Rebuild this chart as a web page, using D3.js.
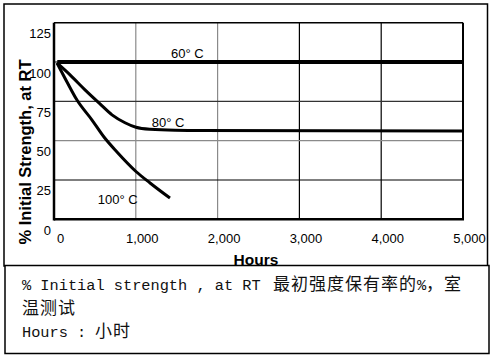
<!DOCTYPE html>
<html><head><meta charset="utf-8">
<script src="https://cdn.jsdelivr.net/npm/d3@7"></script>
<style>body{margin:0;background:#fff}svg{display:block}</style>
</head><body>
<script>
const xTicks = [0, 1000, 2000, 3000, 4000, 5000];
const yTicks = [0, 25, 50, 75, 100, 125];
const hours60 = [40, 5000];
const values60 = [100, 100];
const hours80 = [37, 196, 379, 562, 709, 868, 1002, 1174, 1480, 1760, 5000];
const values80 = [99.4, 91.8, 82.3, 73.4, 66.4, 61.4, 58.5, 57.2, 56.6, 56.5, 56.1];
const hours100 = [37, 159, 281, 465, 611, 770, 1002, 1174, 1418];
const values100 = [99.4, 87.3, 75.8, 63.1, 52.3, 42.8, 30.4, 23.1, 13.5];
const seriesLabels = ["60° C", "80° C", "100° C"];
const yTitle = "% Initial Strength, at RT";
const xTitle = "Hours";

const W = 494, H = 358;
const svg = d3.select("body").append("svg").attr("width", W).attr("height", H);
const x = d3.scaleLinear().domain([0, 5000]).range([54, 463]);
const y = d3.scaleLinear().domain([0, 125]).range([219.3, 22.7]);

// outer frame
svg.append("rect").attr("x", 4).attr("y", 4).attr("width", 483.5).attr("height", 262)
  .attr("fill", "#fff").attr("stroke", "#000").attr("stroke-width", 1.5);

// grid
const vCol = {1000: "#8a8a8a", 2000: "#8a8a8a", 3000: "#000", 4000: "#000"};
svg.append("g").selectAll("line").data(xTicks.slice(1, -1)).join("line")
  .attr("x1", d => x(d)).attr("x2", d => x(d)).attr("y1", y(125)).attr("y2", y(0))
  .attr("stroke", d => vCol[d]).attr("stroke-width", 1.2);
const hCol = {25: "#000", 50: "#8a8a8a", 75: "#333", 100: "#000"};
svg.append("g").selectAll("line").data(yTicks.slice(1, -1)).join("line")
  .attr("x1", x(0)).attr("x2", x(5000)).attr("y1", d => y(d)).attr("y2", d => y(d))
  .attr("stroke", d => hCol[d]).attr("stroke-width", 1.2);

// plot border
svg.append("line").attr("x1", x(0)).attr("x2", x(5000)).attr("y1", y(125)).attr("y2", y(125)).attr("stroke", "#000").attr("stroke-width", 1.5);
svg.append("line").attr("x1", x(5000)).attr("x2", x(5000)).attr("y1", y(125)).attr("y2", y(0)).attr("stroke", "#000").attr("stroke-width", 2);
svg.append("line").attr("x1", x(0)).attr("x2", x(0)).attr("y1", y(125)).attr("y2", y(0) + 1.2).attr("stroke", "#000").attr("stroke-width", 2.5);
svg.append("line").attr("x1", x(0)).attr("x2", x(5000) + 1).attr("y1", y(0)).attr("y2", y(0)).attr("stroke", "#000").attr("stroke-width", 2.5);

// series
const line = d3.line().x(d => x(d[0])).y(d => y(d[1])).curve(d3.curveMonotoneX);
svg.append("path").datum(d3.zip(hours60, values60)).attr("d", line)
  .attr("fill", "none").attr("stroke", "#000").attr("stroke-width", 4);
svg.append("path").datum(d3.zip(hours80, values80)).attr("d", line)
  .attr("fill", "none").attr("stroke", "#000").attr("stroke-width", 3).attr("stroke-linejoin", "round");
svg.append("path").datum(d3.zip(hours100, values100)).attr("d", line)
  .attr("fill", "none").attr("stroke", "#000").attr("stroke-width", 3).attr("stroke-linejoin", "round");

const lab = svg.append("g").attr("font-family", "Arial, 'Liberation Sans', sans-serif").attr("font-size", 13).attr("fill", "#000");
lab.append("text").attr("x", x(1430)).attr("y", y(100) - 4).text(seriesLabels[0]);
lab.append("text").attr("x", x(1195)).attr("y", y(56.8) - 3).text(seriesLabels[1]);
lab.append("text").attr("x", x(535)).attr("y", y(10)).text(seriesLabels[2]);

// axes tick labels
const yAxis = d3.axisLeft(y).tickValues(yTicks).tickSize(0).tickPadding(3);
const gy = svg.append("g").attr("transform", `translate(${x(0)},0)`).call(yAxis);
gy.select(".domain").remove();
gy.selectAll("text").attr("font-family", "Arial, 'Liberation Sans', sans-serif").attr("font-size", 13).attr("fill", "#000")
  .attr("dy", null).attr("transform", "translate(0,15)");

const xAxis = d3.axisBottom(x).tickValues(xTicks).tickSize(0).tickPadding(0).tickFormat(d3.format(","));
const gx = svg.append("g").attr("transform", `translate(6,${y(0)})`).call(xAxis);
gx.select(".domain").remove();
gx.selectAll("text").attr("font-family", "Arial, 'Liberation Sans', sans-serif").attr("font-size", 13).attr("fill", "#000")
  .attr("dy", null).attr("y", 24);

// axis titles
svg.append("text").attr("transform", "translate(31,152) rotate(-90)").attr("text-anchor", "middle")
  .attr("font-family", "Arial, 'Liberation Sans', sans-serif").attr("font-weight", "bold").attr("font-size", 16.5).text(yTitle);
svg.append("text").attr("x", 256).attr("y", 265).attr("text-anchor", "middle")
  .attr("font-family", "Arial, 'Liberation Sans', sans-serif").attr("font-weight", "bold").attr("font-size", 15.5).text(xTitle);

// note box
svg.append("rect").attr("x", 5).attr("y", 265.5).attr("width", 484).attr("height", 88)
  .attr("fill", "#fff").attr("stroke", "#000").attr("stroke-width", 1.5);
const mono = "'Liberation Mono', 'DejaVu Sans Mono', monospace";
const cjk = "'Noto Sans CJK SC', sans-serif";
function seg(t, xPos, yPos, txt, isCjk) {
  t.append("tspan").attr("x", xPos).attr("y", yPos)
    .attr("font-family", isCjk ? cjk : mono)
    .attr("font-size", isCjk ? 17 : 15.3)
    .attr("letter-spacing", isCjk ? 1 : 0)
    .text(txt);
}
const note = svg.append("text").attr("fill", "#111");
seg(note, 22, 290, "% Initial strength , at RT", false);
seg(note, 273, 290, "最初强度保有率的", true);
seg(note, 417, 290, "%", false);
seg(note, 426, 290, "，室", true);
seg(note, 22, 314, "温测试", true);
seg(note, 22, 337, "Hours : ", false);
seg(note, 95, 337, "小时", true);
</script>
</body></html>
